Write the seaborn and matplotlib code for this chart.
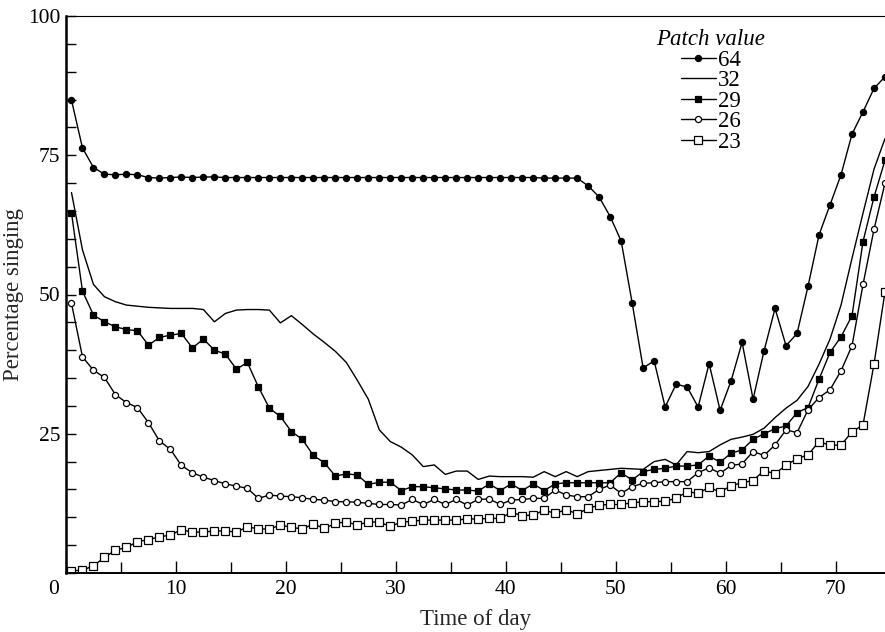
import numpy as np
import pandas as pd
import matplotlib
matplotlib.use("Agg")
import matplotlib.pyplot as plt
import matplotlib.transforms as mtransforms
from matplotlib.lines import Line2D
import seaborn as sns

# ---- data ----
time = np.arange(0.5, 75.0, 1.0)

p64 = [84.9, 76.3, 72.8, 71.6, 71.5, 71.6, 71.5, 71.0, 70.9, 71.0,
       71.1, 71.0, 71.1, 71.1, 71.0, 71.0, 71.0, 71.0, 71.0, 71.0,
       71.0, 71.0, 71.0, 71.0, 71.0, 71.0, 71.0, 71.0, 71.0, 71.0,
       71.0, 71.0, 71.0, 71.0, 71.0, 71.0, 71.0, 71.0, 71.0, 71.0,
       71.0, 71.0, 71.0, 70.9, 70.9, 70.9, 70.9, 69.5, 67.5, 64.0,
       59.6, 48.5, 36.8, 38.1, 29.8, 33.9, 33.4, 29.8, 37.6, 29.2,
       34.5, 41.4, 31.2, 39.9, 47.5, 40.8, 43.0, 51.5, 60.7, 66.1,
       71.5, 78.8, 82.8, 87.0, 89.1]

p32 = [68.3, 58.0, 51.8, 49.6, 48.7, 48.1, 47.9, 47.7, 47.6, 47.5,
       47.5, 47.5, 47.3, 45.1, 46.6, 47.2, 47.3, 47.3, 47.2, 44.9,
       46.2, 44.6, 42.9, 41.4, 39.8, 37.8, 34.6, 31.2, 25.7, 23.6,
       22.6, 21.2, 19.1, 19.4, 17.7, 18.3, 18.3, 16.8, 17.4, 17.3,
       17.3, 17.3, 17.2, 18.2, 17.3, 18.2, 17.3, 18.2, 18.4, 18.6,
       18.8, 18.7, 18.6, 20.0, 20.4, 19.4, 21.8, 21.6, 21.8, 23.0,
       24.0, 24.4, 24.9, 26.0, 27.9, 29.6, 31.0, 33.5, 37.5, 42.0,
       48.1, 56.5, 64.6, 72.5, 78.0]

p29 = [64.6, 50.6, 46.3, 45.1, 44.2, 43.7, 43.5, 40.9, 42.3, 42.7,
       43.0, 40.4, 42.0, 40.0, 39.3, 36.6, 37.8, 33.4, 29.6, 28.1,
       25.4, 24.0, 21.1, 19.8, 17.4, 17.8, 17.6, 15.9, 16.3, 16.3,
       14.8, 15.5, 15.5, 15.3, 15.1, 14.9, 14.9, 14.7, 16.0, 14.8,
       16.0, 14.8, 16.0, 14.8, 16.0, 16.2, 16.2, 16.2, 16.2, 16.2,
       18.0, 16.7, 18.2, 18.6, 18.8, 19.2, 19.2, 19.4, 21.0, 19.9,
       21.5, 22.1, 24.0, 25.0, 25.9, 26.4, 28.8, 29.7, 34.8, 39.6,
       42.4, 46.2, 59.5, 67.5, 74.1]

p26 = [48.4, 38.8, 36.4, 35.1, 32.0, 30.6, 29.7, 27.0, 23.7, 22.2,
       19.3, 18.0, 17.2, 16.6, 16.0, 15.6, 15.2, 13.4, 14.0, 13.8,
       13.7, 13.5, 13.2, 13.1, 12.8, 12.8, 12.7, 12.5, 12.3, 12.3,
       12.2, 13.2, 12.3, 13.2, 12.3, 13.2, 12.2, 13.2, 13.3, 12.3,
       13.1, 13.2, 13.4, 13.4, 14.9, 14.0, 13.7, 13.7, 15.0, 15.8,
       14.3, 15.5, 16.1, 16.2, 16.4, 16.4, 16.4, 18.0, 18.9, 17.9,
       19.3, 19.6, 21.8, 21.1, 23.0, 25.7, 25.2, 29.3, 31.5, 32.9,
       36.3, 40.8, 51.8, 61.7, 70.0]

p23 = [0.4, 0.5, 1.3, 2.8, 4.1, 4.6, 5.6, 6.0, 6.5, 6.8,
       7.8, 7.3, 7.4, 7.5, 7.6, 7.3, 8.3, 7.9, 7.9, 8.6,
       8.2, 7.9, 8.8, 8.0, 8.9, 9.2, 8.6, 9.2, 9.1, 8.4,
       9.1, 9.3, 9.5, 9.5, 9.5, 9.5, 9.7, 9.7, 9.8, 9.8,
       10.9, 10.3, 10.4, 11.3, 10.7, 11.4, 10.6, 11.6, 12.2, 12.3,
       12.3, 12.6, 12.8, 12.8, 12.9, 13.4, 14.6, 14.3, 15.4, 14.5,
       15.7, 16.2, 16.6, 18.4, 17.8, 19.4, 20.5, 21.2, 23.6, 22.9,
       23.0, 25.3, 26.6, 37.5, 50.5]

series_names = ["64", "32", "29", "26", "23"]
series_values = [p64, p32, p29, p26, p23]

x_ticks = [0, 10, 20, 30, 40, 50, 60, 70]
y_ticks = [0, 25, 50, 75, 100]
y_tick_labels = ["", "25", "50", "75", "100"]

# ---- styling ----
sns.set_theme(style="ticks")
plt.rcParams["font.family"] = ["Liberation Serif", "DejaVu Serif"]
plt.rcParams["axes.edgecolor"] = "black"
plt.rcParams["text.color"] = "black"

styles = {
    "64": dict(marker="o", mfc="black", ms=4.4),
    "32": dict(marker=None, mfc="black", ms=0),
    "29": dict(marker="s", mfc="black", ms=4.6),
    "26": dict(marker="o", mfc="white", ms=4.4),
    "23": dict(marker="s", mfc="white", ms=5.4),
}

fig = plt.figure(figsize=(8.85, 6.32), dpi=100)
ax = fig.add_axes([66 / 885, 1 - 573 / 632, 1 - 66 / 885, (573 - 16) / 632])

frames = []
for name, vals in zip(series_names, series_values):
    frames.append(pd.DataFrame({"time": time, "value": vals, "patch": name}))
df = pd.concat(frames, ignore_index=True)

for name in series_names:
    st = styles[name]
    sub = df[df["patch"] == name]
    kw = dict(color="black", linewidth=1.0)
    if st["marker"] is not None:
        kw.update(marker=st["marker"], markersize=st["ms"],
                  markerfacecolor=st["mfc"], markeredgecolor="black",
                  markeredgewidth=0.9)
    sns.lineplot(data=sub, x="time", y="value", ax=ax, legend=False, **kw)

ax.set_xlim(0, 74.5)
ax.set_ylim(0, 100)
ax.set_xticks(x_ticks)
ax.set_xticklabels([str(t) for t in x_ticks])
ax.set_xticks(np.arange(5, 75, 10), minor=True)
ax.set_yticks(y_ticks)
ax.set_yticklabels(y_tick_labels)
ax.set_yticks([v for v in range(5, 100, 5) if v % 25 != 0], minor=True)

ax.tick_params(axis="both", which="both", direction="in", colors="black",
               labelsize=15.5)
ax.tick_params(axis="x", which="major", length=9, width=1.0, pad=5)
ax.tick_params(axis="x", which="minor", length=8, width=1.0)
ax.tick_params(axis="y", which="major", length=7, width=1.0, pad=4)
ax.tick_params(axis="y", which="minor", length=7, width=1.0)

# shift the "0" label left of the origin
lab0 = ax.get_xticklabels()[0]
lab0.set_transform(lab0.get_transform() +
                   mtransforms.ScaledTranslation(-9 / 72, 0, fig.dpi_scale_trans))

ax.spines["left"].set_linewidth(1.8)
ax.spines["bottom"].set_linewidth(1.4)
ax.spines["top"].set_linewidth(0.8)
ax.spines["top"].set_visible(True)
ax.spines["right"].set_visible(False)

ax.set_xlabel("Time of day", fontsize=16.5, labelpad=7)
ax.set_ylabel("Percentage singing", fontsize=16.5, labelpad=3)
ax.grid(False)

handles = []
for name in series_names:
    st = styles[name]
    if st["marker"] is None:
        h = Line2D([], [], color="black", linewidth=1.0)
    else:
        h = Line2D([], [], color="black", linewidth=1.0, marker=st["marker"],
                   markersize=st["ms"], markerfacecolor=st["mfc"],
                   markeredgecolor="black", markeredgewidth=0.9)
    handles.append(h)

leg = ax.legend(handles, series_names, title="Patch value", frameon=False,
                loc="upper center", bbox_to_anchor=((711 - 66) / 819, (573 - 29) / 557),
                fontsize=16.5, title_fontsize=16.5, handlelength=1.5,
                handletextpad=0.1, labelspacing=-0.02, borderpad=0,
                borderaxespad=0)
leg.get_title().set_fontstyle("italic")

fig.savefig("out.png", dpi=100)
